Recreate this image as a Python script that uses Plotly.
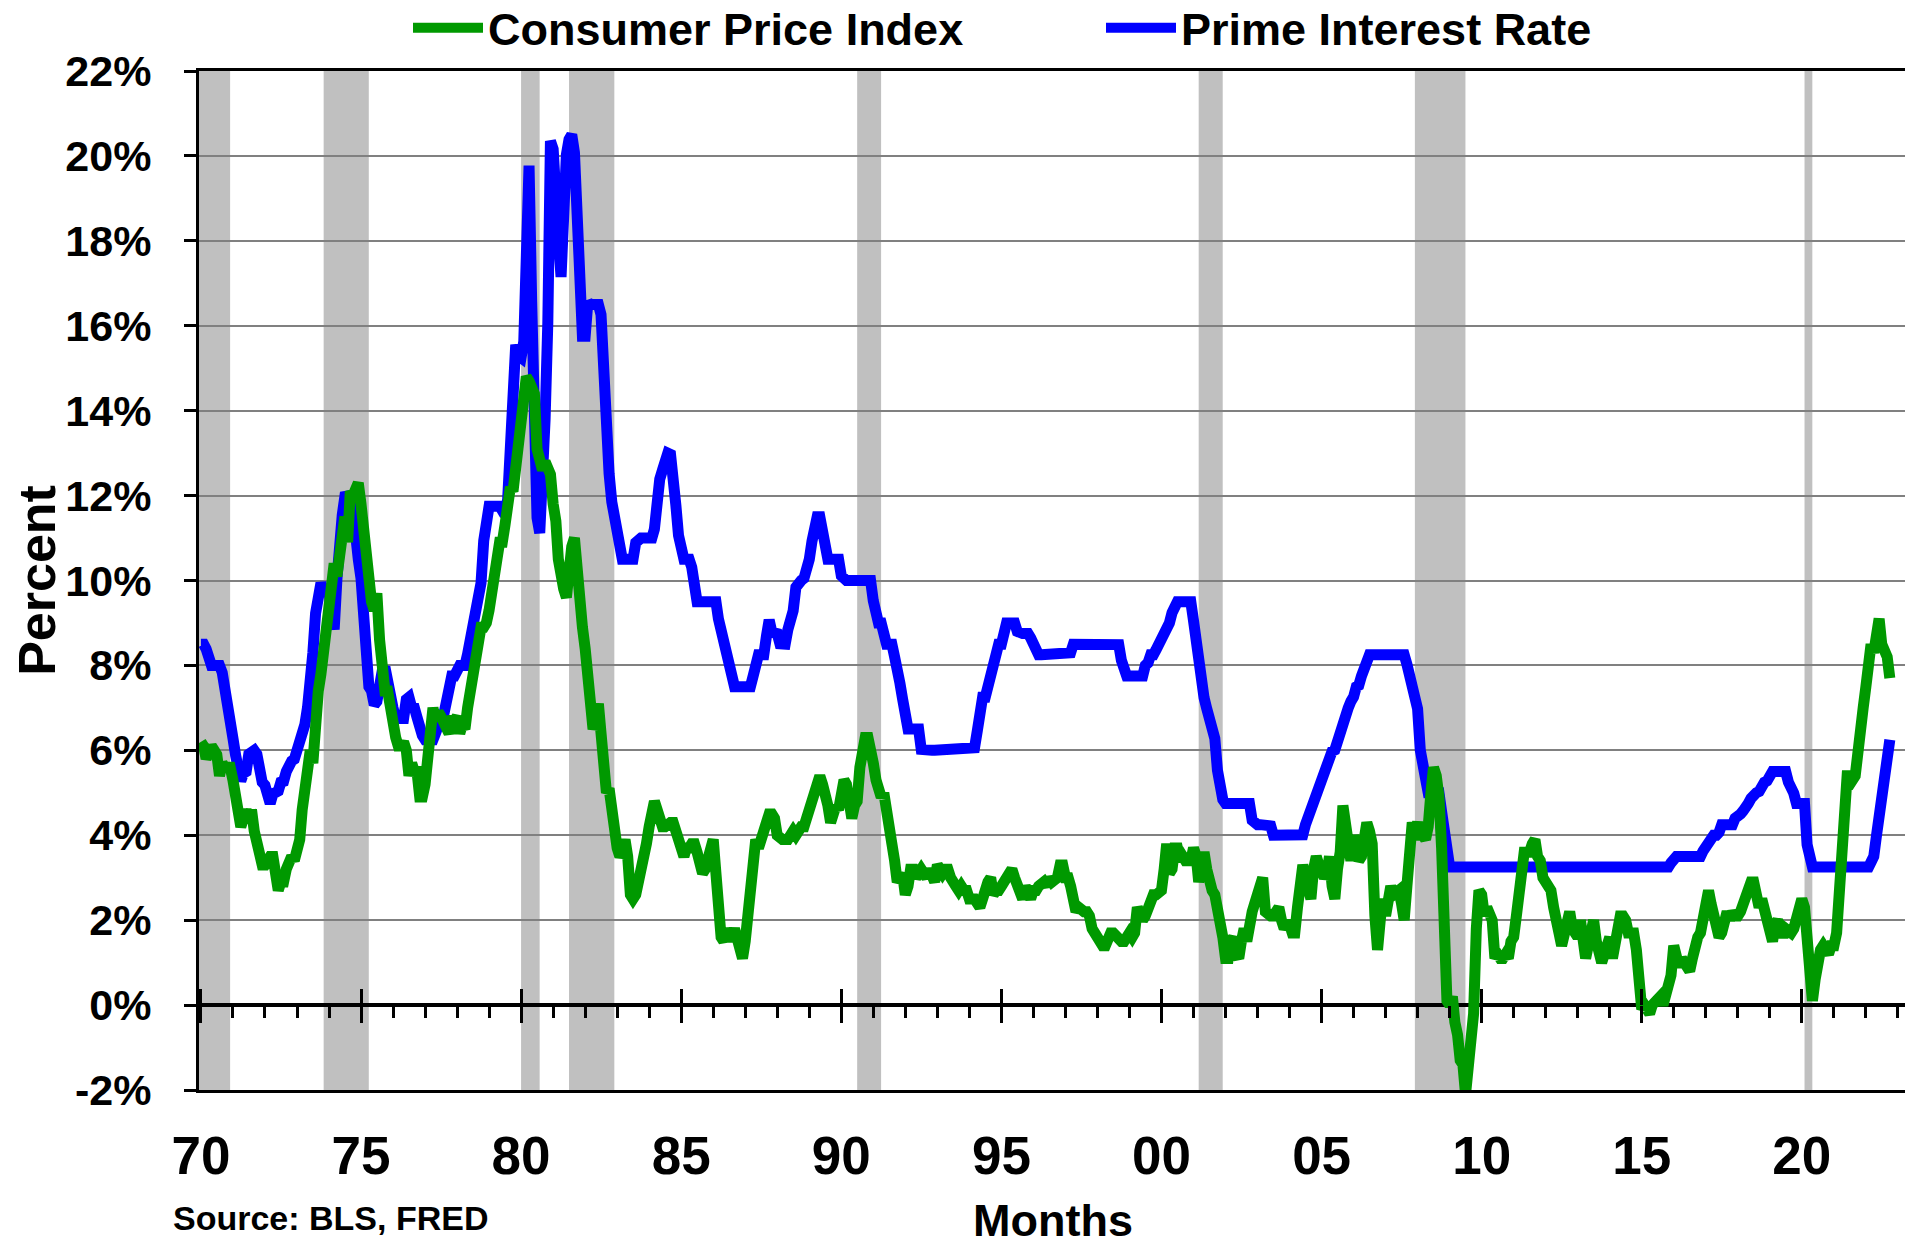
import pandas as pd
import plotly.graph_objects as go

# ---------------- data (monthly, Jan 1970 - Oct 2022) ----------------
start_month = "1970-01-01"

cpi_yoy = [
    6.2, 6.1, 5.8, 6.0, 6.1, 6.0, 5.9, 5.4, 5.7, 5.6, 5.6, 5.6,  # 1970
    5.3, 5.0, 4.7, 4.2, 4.4, 4.6, 4.4, 4.6, 4.1, 3.8, 3.5, 3.3,  # 1971
    3.3, 3.5, 3.5, 3.5, 3.2, 2.7, 2.9, 2.9, 3.2, 3.4, 3.5, 3.4,  # 1972
    3.6, 3.9, 4.6, 5.1, 5.5, 6.0, 5.7, 7.4, 7.4, 7.8, 8.3, 8.7,  # 1973
    9.4, 10.0, 10.4, 10.1, 10.7, 10.9, 11.5, 10.9, 12.1, 12.0, 12.2, 12.3,  # 1974
    11.8, 11.2, 10.3, 10.2, 9.5, 9.3, 9.7, 8.6, 7.9, 7.4, 7.4, 6.9,  # 1975
    6.7, 6.3, 6.1, 6.1, 6.2, 6.0, 5.4, 5.7, 5.5, 5.5, 4.9, 4.9,  # 1976
    5.2, 6.0, 6.4, 7.0, 6.7, 6.9, 6.8, 6.6, 6.6, 6.4, 6.7, 6.7,  # 1977
    6.8, 6.4, 6.6, 6.5, 7.0, 7.4, 7.7, 7.9, 8.3, 8.9, 8.9, 9.0,  # 1978
    9.3, 9.9, 10.1, 10.5, 10.9, 10.9, 11.3, 11.8, 12.2, 12.1, 12.6, 13.3,  # 1979
    13.9, 14.2, 14.8, 14.7, 14.4, 14.4, 13.1, 12.9, 12.6, 12.8, 12.6, 12.5,  # 1980
    11.8, 11.4, 10.5, 10.0, 9.8, 9.6, 10.8, 10.8, 11.0, 10.1, 9.6, 8.9,  # 1981
    8.4, 7.6, 6.8, 6.5, 6.7, 7.1, 6.4, 5.9, 5.0, 5.1, 4.6, 3.8,  # 1982
    3.7, 3.5, 3.6, 3.9, 3.5, 2.6, 2.5, 2.6, 2.9, 2.9, 3.3, 3.8,  # 1983
    4.2, 4.6, 4.8, 4.6, 4.2, 4.2, 4.2, 4.3, 4.3, 4.3, 4.1, 3.9,  # 1984
    3.5, 3.5, 3.7, 3.7, 3.8, 3.8, 3.6, 3.3, 3.1, 3.2, 3.5, 3.8,  # 1985
    3.9, 3.1, 2.3, 1.6, 1.5, 1.8, 1.6, 1.6, 1.8, 1.5, 1.3, 1.1,  # 1986
    1.5, 2.1, 3.0, 3.8, 3.9, 3.7, 3.9, 4.3, 4.4, 4.5, 4.5, 4.4,  # 1987
    4.0, 3.9, 3.9, 3.9, 3.9, 4.0, 4.1, 4.0, 4.2, 4.2, 4.2, 4.4,  # 1988
    4.7, 4.8, 5.0, 5.1, 5.4, 5.2, 5.0, 4.7, 4.3, 4.5, 4.7, 4.6,  # 1989
    5.2, 5.3, 5.2, 4.7, 4.4, 4.7, 4.8, 5.6, 6.2, 6.3, 6.3, 6.1,  # 1990
    5.7, 5.3, 4.9, 4.9, 5.0, 4.7, 4.4, 3.8, 3.4, 2.9, 3.0, 3.1,  # 1991
    2.6, 2.8, 3.2, 3.2, 3.0, 3.1, 3.2, 3.1, 3.0, 3.2, 3.0, 2.9,  # 1992
    3.3, 3.2, 3.1, 3.2, 3.2, 3.0, 2.8, 2.8, 2.7, 2.8, 2.7, 2.7,  # 1993
    2.5, 2.5, 2.5, 2.4, 2.3, 2.5, 2.8, 2.9, 3.0, 2.6, 2.7, 2.7,  # 1994
    2.8, 2.9, 2.9, 3.1, 3.2, 3.0, 2.8, 2.6, 2.5, 2.8, 2.6, 2.5,  # 1995
    2.7, 2.7, 2.8, 2.9, 2.9, 2.8, 3.0, 2.9, 3.0, 3.0, 3.3, 3.3,  # 1996
    3.0, 3.0, 2.8, 2.5, 2.2, 2.3, 2.2, 2.2, 2.2, 2.1, 1.8, 1.7,  # 1997
    1.6, 1.4, 1.4, 1.4, 1.7, 1.7, 1.7, 1.6, 1.5, 1.5, 1.5, 1.6,  # 1998
    1.7, 1.6, 1.7, 2.3, 2.1, 2.0, 2.1, 2.3, 2.6, 2.6, 2.6, 2.7,  # 1999
    2.7, 3.2, 3.8, 3.1, 3.2, 3.7, 3.7, 3.4, 3.5, 3.4, 3.4, 3.4,  # 2000
    3.7, 3.5, 2.9, 3.3, 3.6, 3.2, 2.7, 2.7, 2.6, 2.1, 1.9, 1.6,  # 2001
    1.1, 1.1, 1.5, 1.6, 1.2, 1.1, 1.5, 1.8, 1.5, 2.0, 2.2, 2.4,  # 2002
    2.6, 3.0, 3.0, 2.2, 2.1, 2.1, 2.1, 2.2, 2.3, 2.0, 1.8, 1.9,  # 2003
    1.9, 1.7, 1.7, 2.3, 3.1, 3.3, 3.0, 2.7, 2.5, 3.2, 3.5, 3.3,  # 2004
    3.0, 3.0, 3.1, 3.5, 2.8, 2.5, 3.2, 3.6, 4.7, 4.3, 3.5, 3.4,  # 2005
    4.0, 3.6, 3.4, 3.5, 4.2, 4.3, 4.1, 3.8, 2.1, 1.3, 2.0, 2.5,  # 2006
    2.1, 2.4, 2.8, 2.6, 2.7, 2.7, 2.4, 2.0, 2.8, 3.5, 4.3, 4.1,  # 2007
    4.3, 4.0, 4.0, 3.9, 4.2, 5.0, 5.6, 5.4, 4.9, 3.7, 1.1, 0.1,  # 2008
    0.0, 0.2, -0.4, -0.7, -1.3, -1.4, -2.1, -1.5, -1.3, -0.2, 1.8, 2.7,  # 2009
    2.6, 2.1, 2.3, 2.2, 2.0, 1.1, 1.2, 1.1, 1.1, 1.2, 1.1, 1.5,  # 2010
    1.6, 2.1, 2.7, 3.2, 3.6, 3.6, 3.6, 3.8, 3.9, 3.5, 3.4, 3.0,  # 2011
    2.9, 2.9, 2.7, 2.3, 1.7, 1.7, 1.4, 1.7, 2.0, 2.2, 1.8, 1.7,  # 2012
    1.6, 2.0, 1.5, 1.1, 1.4, 1.8, 2.0, 1.5, 1.2, 1.0, 1.2, 1.5,  # 2013
    1.6, 1.1, 1.5, 2.0, 2.1, 2.1, 2.0, 1.7, 1.7, 1.7, 1.3, 0.8,  # 2014
    -0.1, 0.0, -0.1, -0.2, 0.0, 0.1, 0.2, 0.2, 0.0, 0.2, 0.5, 0.7,  # 2015
    1.4, 1.0, 0.9, 1.1, 1.0, 1.0, 0.8, 1.1, 1.5, 1.6, 1.7, 2.1,  # 2016
    2.5, 2.7, 2.4, 2.2, 1.9, 1.6, 1.7, 1.9, 2.2, 2.0, 2.2, 2.1,  # 2017
    2.1, 2.2, 2.4, 2.5, 2.8, 2.9, 2.9, 2.7, 2.3, 2.5, 2.2, 1.9,  # 2018
    1.6, 1.5, 1.9, 2.0, 1.8, 1.6, 1.8, 1.7, 1.7, 1.8, 2.1, 2.3,  # 2019
    2.5, 2.3, 1.5, 0.3, 0.1, 0.6, 1.0, 1.3, 1.4, 1.2, 1.2, 1.4,  # 2020
    1.4, 1.7, 2.6, 4.2, 5.0, 5.4, 5.4, 5.3, 5.4, 6.2, 6.8, 7.0,  # 2021
    7.5, 7.9, 8.5, 8.3, 8.6, 9.1, 8.5, 8.3, 8.2, 7.7,  # 2022
]

prime_rate = [
    8.50, 8.50, 8.39, 8.00, 8.00, 8.00, 8.00, 8.00, 7.83, 7.50, 7.28, 6.92,  # 1970
    6.29, 5.88, 5.44, 5.28, 5.46, 5.50, 5.91, 6.00, 6.00, 5.91, 5.47, 5.25,  # 1971
    5.18, 4.75, 4.75, 4.97, 5.00, 5.04, 5.25, 5.27, 5.50, 5.73, 5.75, 5.79,  # 1972
    6.00, 6.02, 6.30, 6.61, 7.01, 7.49, 8.30, 9.23, 9.86, 9.94, 9.75, 9.75,  # 1973
    9.73, 9.21, 8.85, 10.02, 11.25, 11.54, 11.98, 12.00, 12.00, 11.68, 10.83, 10.50,  # 1974
    10.05, 8.96, 7.93, 7.50, 7.40, 7.07, 7.15, 7.66, 7.88, 7.96, 7.53, 7.26,  # 1975
    7.00, 6.75, 6.75, 6.75, 6.75, 7.20, 7.25, 7.01, 7.00, 6.78, 6.50, 6.35,  # 1976
    6.25, 6.25, 6.25, 6.25, 6.41, 6.75, 6.75, 6.83, 7.13, 7.52, 7.75, 7.75,  # 1977
    7.93, 8.00, 8.00, 8.00, 8.27, 8.63, 9.00, 9.01, 9.41, 9.94, 10.94, 11.55,  # 1978
    11.75, 11.75, 11.75, 11.75, 11.75, 11.65, 11.54, 11.91, 12.90, 14.39, 15.55, 15.30,  # 1979
    15.25, 15.63, 18.31, 19.77, 16.57, 12.63, 11.48, 11.12, 12.23, 13.79, 16.06, 20.35,  # 1980
    20.16, 19.43, 18.05, 17.15, 19.61, 20.03, 20.39, 20.50, 20.08, 18.45, 16.84, 15.75,  # 1981
    15.75, 16.56, 16.50, 16.50, 16.50, 16.50, 16.26, 14.39, 13.50, 12.52, 11.85, 11.50,  # 1982
    11.16, 10.98, 10.50, 10.50, 10.50, 10.50, 10.50, 10.89, 11.00, 11.00, 11.00, 11.00,  # 1983
    11.00, 11.00, 11.21, 11.93, 12.39, 12.60, 13.00, 13.00, 12.97, 12.58, 11.77, 11.06,  # 1984
    10.61, 10.50, 10.50, 10.50, 10.31, 9.78, 9.50, 9.50, 9.50, 9.50, 9.50, 9.50,  # 1985
    9.50, 9.50, 9.10, 8.83, 8.50, 8.50, 8.16, 7.90, 7.50, 7.50, 7.50, 7.50,  # 1986
    7.50, 7.50, 7.50, 7.75, 8.14, 8.25, 8.25, 8.25, 8.70, 9.07, 8.78, 8.75,  # 1987
    8.75, 8.51, 8.50, 8.50, 8.84, 9.00, 9.29, 9.84, 10.00, 10.00, 10.05, 10.50,  # 1988
    10.50, 10.93, 11.50, 11.50, 11.50, 11.07, 10.98, 10.50, 10.50, 10.50, 10.50, 10.50,  # 1989
    10.11, 10.00, 10.00, 10.00, 10.00, 10.00, 10.00, 10.00, 10.00, 10.00, 10.00, 10.00,  # 1990
    9.52, 9.05, 9.00, 9.00, 8.50, 8.50, 8.50, 8.50, 8.20, 8.00, 7.58, 7.21,  # 1991
    6.50, 6.50, 6.50, 6.50, 6.50, 6.50, 6.02, 6.00, 6.00, 6.00, 6.00, 6.00,  # 1992
    6.00, 6.00, 6.00, 6.00, 6.00, 6.00, 6.00, 6.00, 6.00, 6.00, 6.00, 6.00,  # 1993
    6.00, 6.00, 6.06, 6.45, 6.99, 7.25, 7.25, 7.51, 7.75, 7.75, 8.15, 8.50,  # 1994
    8.50, 9.00, 9.00, 9.00, 9.00, 9.00, 8.80, 8.75, 8.75, 8.75, 8.75, 8.65,  # 1995
    8.50, 8.25, 8.25, 8.25, 8.25, 8.25, 8.25, 8.25, 8.25, 8.25, 8.25, 8.25,  # 1996
    8.25, 8.25, 8.30, 8.50, 8.50, 8.50, 8.50, 8.50, 8.50, 8.50, 8.50, 8.50,  # 1997
    8.50, 8.50, 8.50, 8.50, 8.50, 8.50, 8.50, 8.50, 8.49, 8.12, 7.89, 7.75,  # 1998
    7.75, 7.75, 7.75, 7.75, 7.75, 7.75, 8.00, 8.06, 8.25, 8.25, 8.37, 8.50,  # 1999
    8.50, 8.73, 8.83, 9.00, 9.24, 9.50, 9.50, 9.50, 9.50, 9.50, 9.50, 9.50,  # 2000
    9.05, 8.50, 8.32, 7.80, 7.24, 6.98, 6.75, 6.67, 6.28, 5.53, 5.10, 4.84,  # 2001
    4.75, 4.75, 4.75, 4.75, 4.75, 4.75, 4.75, 4.75, 4.75, 4.75, 4.35, 4.25,  # 2002
    4.25, 4.25, 4.25, 4.25, 4.25, 4.22, 4.00, 4.00, 4.00, 4.00, 4.00, 4.00,  # 2003
    4.00, 4.00, 4.00, 4.00, 4.00, 4.01, 4.25, 4.43, 4.58, 4.75, 4.93, 5.15,  # 2004
    5.25, 5.49, 5.58, 5.75, 5.98, 6.01, 6.25, 6.44, 6.59, 6.75, 7.00, 7.15,  # 2005
    7.26, 7.50, 7.53, 7.75, 7.93, 8.02, 8.25, 8.25, 8.25, 8.25, 8.25, 8.25,  # 2006
    8.25, 8.25, 8.25, 8.25, 8.25, 8.25, 8.25, 8.25, 8.03, 7.74, 7.50, 7.33,  # 2007
    6.98, 6.00, 5.66, 5.24, 5.00, 5.00, 5.00, 5.00, 5.00, 4.56, 4.00, 3.61,  # 2008
    3.25, 3.25, 3.25, 3.25, 3.25, 3.25, 3.25, 3.25, 3.25, 3.25, 3.25, 3.25,  # 2009
    3.25, 3.25, 3.25, 3.25, 3.25, 3.25, 3.25, 3.25, 3.25, 3.25, 3.25, 3.25,  # 2010
    3.25, 3.25, 3.25, 3.25, 3.25, 3.25, 3.25, 3.25, 3.25, 3.25, 3.25, 3.25,  # 2011
    3.25, 3.25, 3.25, 3.25, 3.25, 3.25, 3.25, 3.25, 3.25, 3.25, 3.25, 3.25,  # 2012
    3.25, 3.25, 3.25, 3.25, 3.25, 3.25, 3.25, 3.25, 3.25, 3.25, 3.25, 3.25,  # 2013
    3.25, 3.25, 3.25, 3.25, 3.25, 3.25, 3.25, 3.25, 3.25, 3.25, 3.25, 3.25,  # 2014
    3.25, 3.25, 3.25, 3.25, 3.25, 3.25, 3.25, 3.25, 3.25, 3.25, 3.25, 3.35,  # 2015
    3.50, 3.50, 3.50, 3.50, 3.50, 3.50, 3.50, 3.50, 3.50, 3.50, 3.50, 3.63,  # 2016
    3.75, 3.75, 3.88, 4.00, 4.00, 4.07, 4.25, 4.25, 4.25, 4.25, 4.25, 4.40,  # 2017
    4.50, 4.50, 4.57, 4.75, 4.75, 4.87, 5.00, 5.00, 5.03, 5.25, 5.25, 5.28,  # 2018
    5.50, 5.50, 5.50, 5.50, 5.50, 5.50, 5.50, 5.25, 5.13, 4.99, 4.75, 4.75,  # 2019
    4.75, 4.75, 3.78, 3.25, 3.25, 3.25, 3.25, 3.25, 3.25, 3.25, 3.25, 3.25,  # 2020
    3.25, 3.25, 3.25, 3.25, 3.25, 3.25, 3.25, 3.25, 3.25, 3.25, 3.25, 3.25,  # 2021
    3.25, 3.25, 3.37, 3.50, 3.98, 4.54, 4.99, 5.50, 5.86, 6.25,  # 2022
]

recession_starts = ["1969-12-01", "1973-11-01", "1980-01-01", "1981-07-01",
                    "1990-07-01", "2001-03-01", "2007-12-01", "2020-02-01"]
recession_ends = ["1970-11-30", "1975-03-31", "1980-07-31", "1982-11-30",
                  "1991-03-31", "2001-11-30", "2009-06-30", "2020-04-30"]

y_ticks = [-2, 0, 2, 4, 6, 8, 10, 12, 14, 16, 18, 20, 22]
y_tick_labels = ["-2%", "0%", "2%", "4%", "6%", "8%", "10%", "12%",
                 "14%", "16%", "18%", "20%", "22%"]
x_range = ["1969-12-10", "2023-04-15"]

# ---------------- figure ----------------
dates = pd.date_range(start_month, periods=len(cpi_yoy), freq="MS")

FONT = "Arial, Liberation Sans, sans-serif"
GREEN = "#009900"
BLUE = "#0000FF"
W, H = 1913, 1245
OFF = 8  # page body margin
# plot area in page pixels: left 199, right 1907, top 71, bottom 1090
ML, MR, MT, MB = 199 - OFF, 6 + OFF, 71 - OFF, 155 + OFF

fig = go.Figure()
fig.add_trace(go.Scatter(x=dates, y=prime_rate, mode="lines", name="Prime Interest Rate",
                         line=dict(color=BLUE, width=11), legendrank=2))
fig.add_trace(go.Scatter(x=dates, y=cpi_yoy, mode="lines", name="Consumer Price Index",
                         line=dict(color=GREEN, width=11), legendrank=1))

for s, e in zip(recession_starts, recession_ends):
    fig.add_shape(type="rect", xref="x", yref="paper", x0=s, x1=e, y0=0, y1=1,
                  fillcolor="#C0C0C0", line=dict(width=0), layer="below")

zero_pos = (0 - y_ticks[0]) / (y_ticks[-1] - y_ticks[0])

tick_axis_common = dict(
    type="date", range=x_range, overlaying="x", anchor="free", position=zero_pos,
    showgrid=False, showline=False, zeroline=False, showticklabels=False,
    tick0="1970-01-01", dtick="M60", tickcolor="black",
)

fig.update_layout(
    width=W, height=H,
    paper_bgcolor="white", plot_bgcolor="white",
    margin=dict(l=ML, r=MR, t=MT, b=MB, autoexpand=False),
    font=dict(family=FONT, color="black"),
    showlegend=True,
    legend=dict(orientation="h", xref="container", yref="container",
                x=400 / W, xanchor="left", y=1 - 20 / H, yanchor="middle",
                font=dict(family=FONT, size=45, weight="bold", color="black"),
                itemwidth=70,
                entrywidth=608, entrywidthmode="pixels",
                bgcolor="rgba(0,0,0,0)", borderwidth=0),
    xaxis=dict(
        type="date", range=x_range, anchor="y", side="bottom",
        showline=True, linecolor="black", linewidth=3, mirror=True,
        showgrid=False, zeroline=False, ticks="",
        tick0="1970-01-01", dtick="M60", tickformat="%y",
        tickfont=dict(family=FONT, size=53, weight="bold"),
        ticklabelstandoff=17,
        title=dict(text="Months", font=dict(family=FONT, size=45, weight="bold"), standoff=21),
    ),
    xaxis2=dict(ticks="outside", ticklen=17, tickwidth=3,
                minor=dict(ticks="outside", ticklen=12, tickwidth=2.5, dtick="M12",
                           tick0="1970-01-01", tickcolor="black", showgrid=False),
                **tick_axis_common),
    xaxis3=dict(ticks="inside", ticklen=16, tickwidth=3, **tick_axis_common),
    yaxis=dict(
        range=[y_ticks[0], y_ticks[-1]], tickmode="array",
        tickvals=y_ticks, ticktext=y_tick_labels,
        showline=True, linecolor="black", linewidth=3, mirror=True,
        showgrid=True, gridcolor="#808080", gridwidth=2,
        zeroline=True, zerolinecolor="black", zerolinewidth=3.5,
        ticks="outside", ticklen=12, tickwidth=2.5, tickcolor="black",
        tickfont=dict(family=FONT, size=43, weight="bold"),
        ticklabelstandoff=24,
        title=dict(text="Percent", font=dict(family=FONT, size=52, weight="bold"), standoff=8),
    ),
)

# invisible helper traces so the tick-only overlay axes are rendered
fig.add_trace(go.Scatter(x=dates[:1], y=cpi_yoy[:1], xaxis="x2", mode="lines",
                         showlegend=False, hoverinfo="skip", line=dict(width=0)))
fig.add_trace(go.Scatter(x=dates[:1], y=cpi_yoy[:1], xaxis="x3", mode="lines",
                         showlegend=False, hoverinfo="skip", line=dict(width=0)))

plot_w = W - ML - MR
plot_h = H - MT - MB
plot_left_page, plot_bottom_page = 199, 1090
fig.add_annotation(text="Source: BLS, FRED", xref="paper", yref="paper",
                   x=(171 - plot_left_page) / plot_w, xanchor="left",
                   y=-(1218 - plot_bottom_page) / plot_h, yanchor="middle",
                   showarrow=False, font=dict(family=FONT, size=34, weight="bold"))

fig.write_html("out.html")
